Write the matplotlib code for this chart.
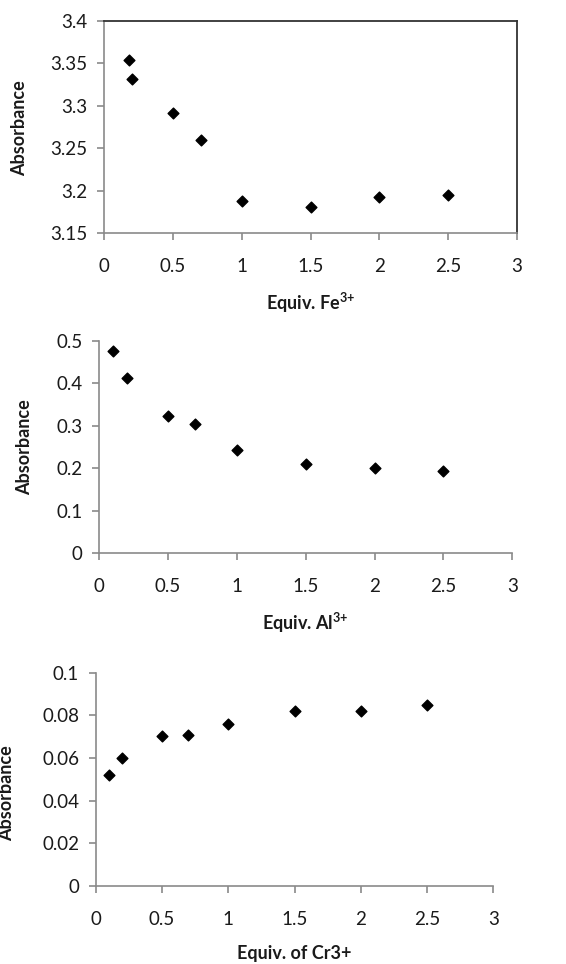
import matplotlib
matplotlib.use("Agg")
import matplotlib.pyplot as plt

plt.rcParams['font.family'] = ['Lato', 'DejaVu Sans']
plt.rcParams['mathtext.fontset'] = 'custom'
plt.rcParams['mathtext.rm'] = 'Lato'
plt.rcParams['mathtext.bf'] = 'Lato:bold'

fe_x = [0.18, 0.2, 0.5, 0.7, 1.0, 1.5, 2.0, 2.5]
fe_y = [3.354, 3.332, 3.291, 3.260, 3.188, 3.181, 3.193, 3.195]
al_x = [0.1, 0.2, 0.5, 0.7, 1.0, 1.5, 2.0, 2.5]
al_y = [0.475, 0.413, 0.324, 0.304, 0.242, 0.210, 0.200, 0.193]
cr_x = [0.1, 0.2, 0.5, 0.7, 1.0, 1.5, 2.0, 2.5]
cr_y = [0.052, 0.0598, 0.0704, 0.0709, 0.0757, 0.082, 0.082, 0.0847]

x_ticks = [0, 0.5, 1, 1.5, 2, 2.5, 3]
x_tick_labels = ['0', '0.5', '1', '1.5', '2', '2.5', '3']
fe_yticks = [3.15, 3.2, 3.25, 3.3, 3.35, 3.4]
fe_yticklabels = ['3.15', '3.2', '3.25', '3.3', '3.35', '3.4']
al_yticks = [0, 0.1, 0.2, 0.3, 0.4, 0.5]
al_yticklabels = ['0', '0.1', '0.2', '0.3', '0.4', '0.5']
cr_yticks = [0, 0.02, 0.04, 0.06, 0.08, 0.1]
cr_yticklabels = ['0', '0.02', '0.04', '0.06', '0.08', '0.1']

fig = plt.figure(figsize=(5.66, 9.64), dpi=100)
W, H = 566, 964

def make_ax(l, r, t, b):
    return fig.add_axes([l / W, 1 - b / H, (r - l) / W, (b - t) / H])

panels = [
    dict(box=(104.3, 516.7, 20.7, 233.3), x=fe_x, y=fe_y, yt=fe_yticks, ytl=fe_yticklabels,
         ylim=(3.15, 3.4), xlabel='Equiv. Fe$^{\\mathbf{3{+}}}$', frame=True, xl_y=303, yl_x=20, yl_y=128),
    dict(box=(99.0, 512.3, 340.7, 553.3), x=al_x, y=al_y, yt=al_yticks, ytl=al_yticklabels,
         ylim=(0, 0.5), xlabel='Equiv. Al$^{\\mathbf{3{+}}}$', frame=False, xl_y=623, yl_x=25, yl_y=447),
    dict(box=(95.7, 493.3, 672.7, 885.7), x=cr_x, y=cr_y, yt=cr_yticks, ytl=cr_yticklabels,
         ylim=(0, 0.1), xlabel='Equiv. of Cr3+', frame=False, xl_y=953, yl_x=7, yl_y=793),
]

for p in panels:
    l, r, t, b = p['box']
    ax = make_ax(l, r, t, b)
    ax.scatter(p['x'], p['y'], marker='D', s=30, color='black', zorder=3, clip_on=False)
    ax.set_xlim(0, 3)
    ax.set_ylim(*p['ylim'])
    ax.set_xticks(x_ticks)
    ax.set_xticklabels(x_tick_labels)
    ax.set_yticks(p['yt'])
    ax.set_yticklabels(p['ytl'])
    for s in ['left', 'bottom']:
        ax.spines[s].set_color('#8a8a8a')
        ax.spines[s].set_linewidth(1.2)
    if p['frame']:
        for s in ['top', 'right']:
            ax.spines[s].set_color('#333333')
            ax.spines[s].set_linewidth(1.3)
    else:
        ax.spines['top'].set_visible(False)
        ax.spines['right'].set_visible(False)
    ax.tick_params(axis='x', direction='out', length=5, width=1.2, color='#8a8a8a',
                   labelsize=13.5, labelcolor='#1a1a1a', pad=13)
    ax.tick_params(axis='y', direction='out', length=5, width=1.2, color='#8a8a8a',
                   labelsize=13.5, labelcolor='#1a1a1a', pad=7)
    cx = (l + r) / 2
    fig.text(cx / W, 1 - p['xl_y'] / H, p['xlabel'], ha='center', va='center',
             fontsize=13, fontweight='bold', color='#1a1a1a')
    fig.text(p['yl_x'] / W, 1 - p['yl_y'] / H, 'Absorbance', ha='center', va='center',
             rotation=90, fontsize=13, fontweight='bold', color='#1a1a1a')

fig.savefig('out.png', dpi=100)
